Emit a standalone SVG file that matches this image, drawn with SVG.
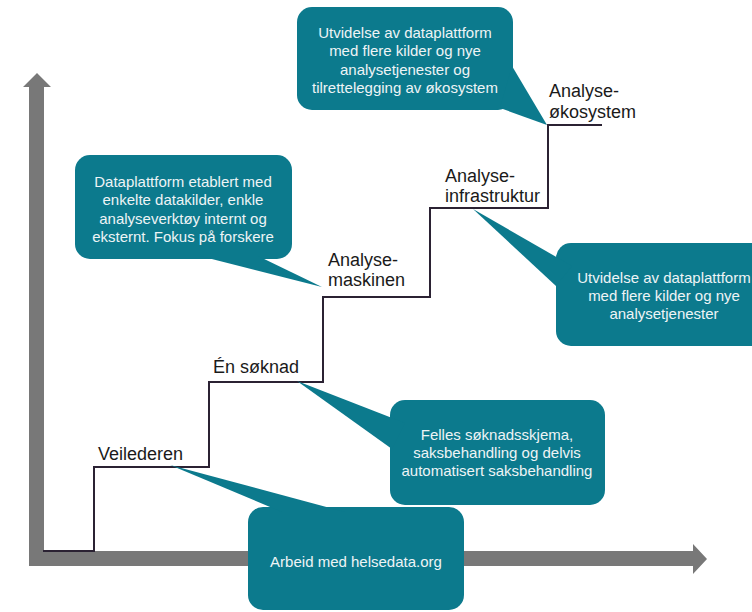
<svg xmlns="http://www.w3.org/2000/svg" width="752" height="612" viewBox="0 0 752 612">
  <style>
    .axis { fill: #787878; }
    .stair { fill: none; stroke: #2b2233; stroke-width: 2; stroke-linejoin: miter; }
    .step { font-family: "Liberation Sans", Arial, sans-serif; font-size: 18px; fill: #1a1a1a; }
    .bubble { fill: #0c7a8d; }
    .btxt { font-family: "Liberation Sans", Arial, sans-serif; font-size: 15px; fill: #eef4f6; text-anchor: middle; }
  </style>

  <!-- axes -->
  <g id="axes">
    <polygon class="axis" points="29,566 29,87 23,87 37,73 51,87 44,87 44,551 693,551 693,544 707,559 693,574 693,566"/>
  </g>

  <!-- staircase -->
  <g id="connectors">
    <path class="stair" d="M43,551 H94 V467 H209 V382 H323 V297 H430 V208 H548 V125 H602"/>
  </g>

  <!-- step labels -->
  <g id="veilederen">
    <text class="step" x="98" y="460">Veilederen</text>
  </g>
  <g id="en-soknad">
    <text class="step" x="213" y="373">Én søknad</text>
  </g>
  <g id="analysemaskinen">
    <text class="step" x="328" y="266">Analyse-</text>
    <text class="step" x="328" y="286">maskinen</text>
  </g>
  <g id="analyseinfrastruktur">
    <text class="step" x="445" y="182">Analyse-</text>
    <text class="step" x="445" y="202">infrastruktur</text>
  </g>
  <g id="analyseokosystem">
    <text class="step" x="549" y="97">Analyse-</text>
    <text class="step" x="549" y="118">økosystem</text>
  </g>

  <!-- callouts -->
  <g id="callout-okosystem">
    <rect class="bubble" x="297" y="7" width="216" height="103" rx="15"/>
    <polygon class="bubble" points="512,66 547,125 500,108"/>
    <text class="btxt" x="405" y="38">Utvidelse av dataplattform</text>
    <text class="btxt" x="405" y="56">med flere kilder og nye</text>
    <text class="btxt" x="405" y="75">analysetjenester og</text>
    <text class="btxt" x="405" y="93">tilrettelegging av økosystem</text>
  </g>

  <g id="callout-maskinen">
    <rect class="bubble" x="75" y="155" width="217" height="104" rx="15"/>
    <polygon class="bubble" points="200,256 322,287 258,256"/>
    <text class="btxt" x="183" y="187">Dataplattform etablert med</text>
    <text class="btxt" x="183" y="205">enkelte datakilder, enkle</text>
    <text class="btxt" x="183" y="224">analyseverktøy internt og</text>
    <text class="btxt" x="183" y="242">eksternt. Fokus på forskere</text>
  </g>

  <g id="callout-infrastruktur">
    <rect class="bubble" x="556" y="243" width="220" height="103" rx="15"/>
    <polygon class="bubble" points="473,209 572,266 556,286"/>
    <text class="btxt" x="664" y="283">Utvidelse av dataplattform</text>
    <text class="btxt" x="664" y="301">med flere kilder og nye</text>
    <text class="btxt" x="664" y="319">analysetjenester</text>
  </g>

  <g id="callout-soknad">
    <rect class="bubble" x="390" y="400" width="215" height="105" rx="15"/>
    <polygon class="bubble" points="297,381 405,423 392,449"/>
    <text class="btxt" x="497" y="440">Felles søknadsskjema,</text>
    <text class="btxt" x="497" y="458">saksbehandling og delvis</text>
    <text class="btxt" x="497" y="476">automatisert saksbehandling</text>
  </g>

  <g id="callout-helsedata">
    <rect class="bubble" x="248" y="507" width="216" height="103" rx="15"/>
    <polygon class="bubble" points="170,465 345,512 282,512"/>
    <text class="btxt" x="356" y="567">Arbeid med helsedata.org</text>
  </g>
</svg>
